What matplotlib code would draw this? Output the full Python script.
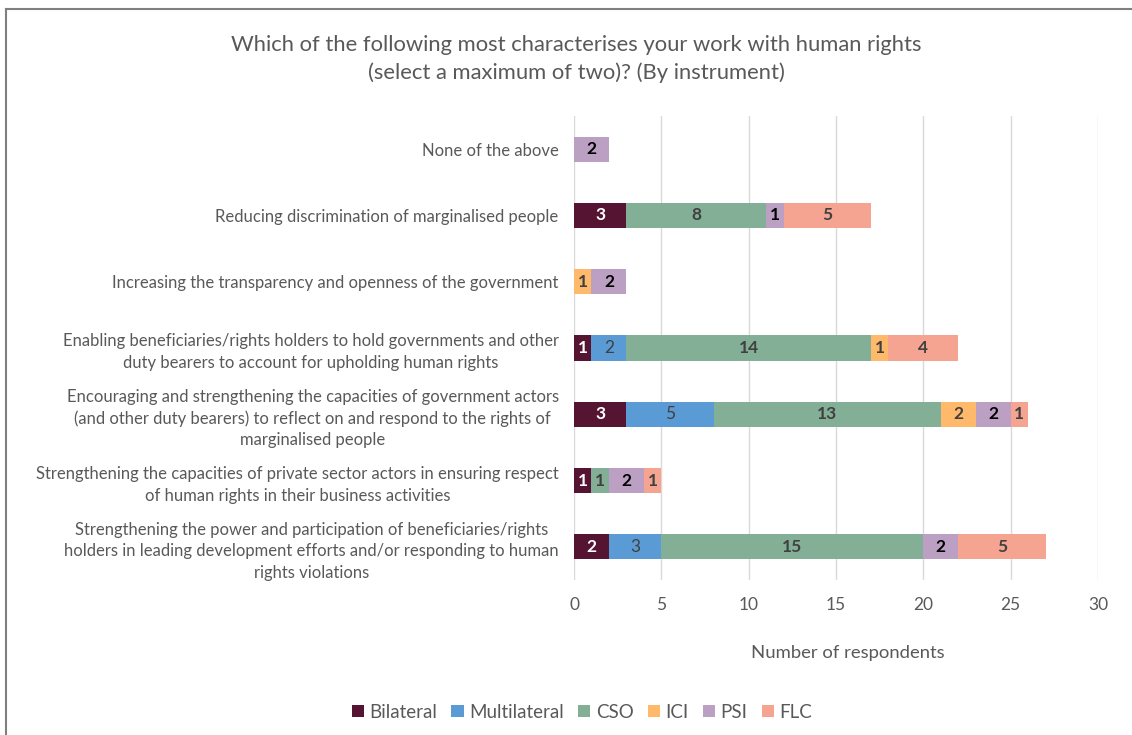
import matplotlib
matplotlib.use("Agg")
import matplotlib.pyplot as plt
from matplotlib.lines import Line2D
import numpy as np

plt.rcParams['font.family'] = ['Lato', 'DejaVu Sans']

categories = [
    "None of the above",
    "Reducing discrimination of marginalised people",
    "Increasing the transparency and openness of the government",
    "Enabling beneficiaries/rights holders to hold governments and other\nduty bearers to account for upholding human rights",
    "Encouraging and strengthening the capacities of government actors\n(and other duty bearers) to reflect on and respond to the rights of\nmarginalised people",
    "Strengthening the capacities of private sector actors in ensuring respect\nof human rights in their business activities",
    "Strengthening the power and participation of beneficiaries/rights\nholders in leading development efforts and/or responding to human\nrights violations",
]

series_names = ["Bilateral", "Multilateral", "CSO", "ICI", "PSI", "FLC"]
bilateral    = [0, 3, 0, 1, 3, 1, 2]
multilateral = [0, 0, 0, 2, 5, 0, 3]
cso          = [0, 8, 0, 14, 13, 1, 15]
ici          = [0, 0, 1, 1, 2, 0, 0]
psi          = [2, 1, 2, 0, 2, 2, 2]
flc          = [0, 5, 0, 4, 1, 1, 5]
series_values = [bilateral, multilateral, cso, ici, psi, flc]

colors = ["#561433", "#5B9BD5", "#84AF97", "#FFB96A", "#BBA0C4", "#F4A491"]
label_colors = ["white", "#404040", "#404040", "#404040", "black", "#404040"]
label_weights = ["bold", "normal", "bold", "bold", "bold", "bold"]

xticks = [0, 5, 10, 15, 20, 25, 30]
text_gray = "#595959"

W, H = 1132, 735
fig = plt.figure(figsize=(W / 100, H / 100), dpi=100)
ax = fig.add_axes([574 / W, 1 - 580 / H, (1098 - 574) / W, (580 - 116) / H])

y = np.arange(len(categories))
left = np.zeros(len(categories))
for name, vals, col, lc, lw in zip(series_names, series_values, colors, label_colors, label_weights):
    vals = np.array(vals, dtype=float)
    bars = ax.barh(y, vals, left=left, height=0.38, color=col, label=name, zorder=3)
    for rect, v in zip(bars, vals):
        if v > 0:
            ax.text(rect.get_x() + rect.get_width() / 2, rect.get_y() + rect.get_height() / 2,
                    f"{int(v)}", ha="center", va="center", color=lc,
                    fontsize=12.5, fontweight=lw, zorder=4)
    left += vals

ax.set_xlim(0, 30)
ax.set_ylim(len(categories) - 0.5, -0.5)
ax.set_xticks(xticks)
ax.set_xticklabels([str(t) for t in xticks])
ax.set_yticks(y)
ax.set_yticklabels(categories, ha="right", multialignment="center", linespacing=1.42)
ax.tick_params(axis="y", length=0, pad=11, labelsize=12, labelcolor=text_gray)
ax.tick_params(axis="x", length=0, pad=12, labelsize=12.5, labelcolor=text_gray)
ax.grid(axis="x", color="#D9D9D9", linewidth=1, zorder=0)
for s in ax.spines.values():
    s.set_visible(False)

fig.text(576 / W, 1 - 45 / H, "Which of the following most characterises your work with human rights",
         ha="center", va="center", fontsize=15.8, color=text_gray)
fig.text(576 / W, 1 - 73 / H, "(select a maximum of two)? (By instrument)",
         ha="center", va="center", fontsize=15.8, color=text_gray)
fig.text(848 / W, 1 - 653 / H, "Number of respondents", ha="center", va="center",
         fontsize=13.3, color=text_gray)

handles, labels = ax.get_legend_handles_labels()
leg = fig.legend(handles, labels, loc="center", bbox_to_anchor=(582 / W, 1 - 712 / H),
                 ncol=6, frameon=False, fontsize=13.5, handlelength=0.65, handleheight=0.65,
                 handletextpad=0.3, columnspacing=0.75, labelcolor=text_gray)

# outer chart border
fig.add_artist(Line2D([6 / W, 6 / W], [0, 1 - 9 / H], transform=fig.transFigure, color="#7F7F7F", lw=1.5))
fig.add_artist(Line2D([6 / W, 1], [1 - 9 / H, 1 - 9 / H], transform=fig.transFigure, color="#7F7F7F", lw=1.5))

fig.savefig("out.png", dpi=100, facecolor="white")
